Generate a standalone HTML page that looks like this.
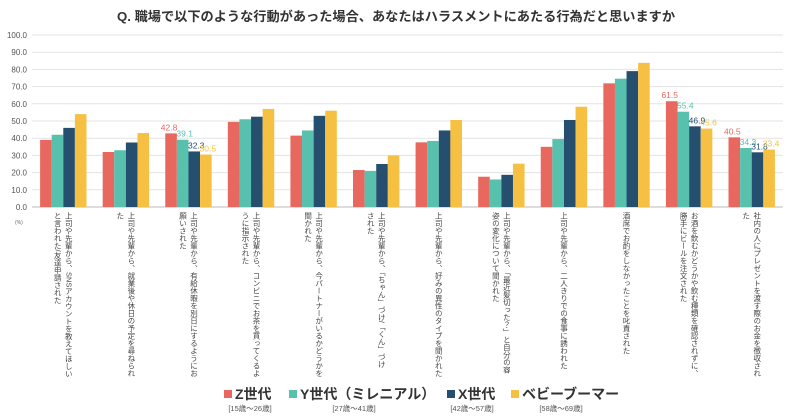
<!DOCTYPE html>
<html><head><meta charset="utf-8">
<style>
body{margin:0;background:#fff;font-family:"Liberation Sans","Noto Sans CJK JP",sans-serif;}
#wrap{position:relative;width:797px;height:420px;overflow:hidden;background:#fff;}
.title{position:absolute;left:117px;top:6px;font-size:13.2px;font-weight:bold;color:#333;white-space:nowrap;}
.cat{position:absolute;top:212px;writing-mode:vertical-rl;font-size:7.5px;line-height:11px;color:#444;white-space:nowrap;transform:translateX(-50%);}
.leg{position:absolute;top:384px;font-size:14px;font-weight:bold;color:#333;white-space:nowrap;}
.sw{display:inline-block;width:8px;height:8px;margin-right:3px;vertical-align:1px;}
.sub{position:absolute;top:403px;font-size:7.5px;color:#555;white-space:nowrap;transform:translateX(-50%);}
</style></head><body>
<div id="wrap">
<div class="title">Q. 職場で以下のような行動があった場合、あなたはハラスメントにあたる行為だと思いますか</div>
<svg id="svg" width="797" height="420" style="position:absolute;left:0;top:0"></svg>
<div id="cats"></div>
<div class="leg" style="left:224px"><span class="sw" style="background:#e8685f"></span>Z世代</div>
<div class="leg" style="left:289px"><span class="sw" style="background:#57c1ae"></span>Y世代（ミレニアル）</div>
<div class="leg" style="left:447px"><span class="sw" style="background:#264e6e"></span>X世代</div>
<div class="leg" style="left:511px"><span class="sw" style="background:#f6c143"></span>ベビーブーマー</div>
<div class="sub" style="left:250px">[15歳～26歳]</div>
<div class="sub" style="left:354px">[27歳～41歳]</div>
<div class="sub" style="left:472px">[42歳～57歳]</div>
<div class="sub" style="left:561px">[58歳～69歳]</div>
</div>
<script>
const categories=[
"上司や先輩から、SNSアカウントを教えてほしい<br>と言われた/友達申請された",
"上司や先輩から、就業後や休日の予定を尋ねられ<br>た",
"上司や先輩から、有給休暇を別日にするようにお<br>願いされた",
"上司や先輩から、コンビニでお茶を買ってくるよ<br>うに指示された",
"上司や先輩から、今パートナーがいるかどうかを<br>聞かれた",
"上司や先輩から、「ちゃん」づけ/「くん」づけ<br>された",
"上司や先輩から、好みの異性のタイプを聞かれた",
"上司や先輩から、「最近髪切った？」と自分の容<br>姿の変化について聞かれた",
"上司や先輩から、二人きりでの食事に誘われた",
"酒席でお酌をしなかったことを叱責された",
"お酒を飲むかどうかや飲む種類を確認されずに、<br>勝手にビールを注文された",
"社内の人にプレゼントを渡す際のお金を徴収され<br>た"];
const genZ=[39,32,42.8,49.5,41.5,21.5,37.6,17.6,35,71.9,61.5,40.5];
const genY=[42,33,39.1,51,44.5,21,38.4,16,39.5,74.6,55.4,34.3];
const genX=[46,37.5,32.3,52.5,53,25,44.5,18.7,50.6,79,46.9,31.8];
const boomer=[54,43,30.5,57,56,30,50.6,25.2,58.3,83.8,45.6,33.4];
const yTicks=[0,10,20,30,40,50,60,70,80,90,100];
const labeled=[2,10,11];
const series=[genZ,genY,genX,boomer];
const colors=["#e8685f","#57c1ae","#264e6e","#f6c143"];
const names=["z","y","x","boomer"];
const X0=32,X1=783,Y0=207,Y100=35;
const bw=(X1-X0)/categories.length;
const y=v=>Y0-(Y0-Y100)*v/100;
const xc=i=>X0+bw*(i+0.5);
const svg=document.getElementById('svg');
const NS="http://www.w3.org/2000/svg";
function mk(t,a){const e=document.createElementNS(NS,t);for(const k in a)e.setAttribute(k,a[k]);svg.appendChild(e);return e;}
yTicks.forEach(t=>{
 const l=mk('line',{x1:X0,x2:X1,y1:y(t),y2:y(t),stroke:t===0?'#bbb':'#e3e3e3','stroke-width':1});
 
 
 const tx=mk('text',{x:27,y:y(t)+3,'text-anchor':'end','font-size':8,fill:'#555'});
 tx.textContent=t.toFixed(1);
 
 
});
const pu=mk('text',{x:15,y:224,'font-size':5,fill:'#666'});pu.textContent='(%)';


const barW=11.6;
categories.forEach((c,i)=>{
 series.forEach((s,j)=>{
  const bx=xc(i)-2*barW+j*barW;
  const r=mk('rect',{x:bx,y:y(s[i]),width:barW,height:Y0-y(s[i]),fill:colors[j]});
  
  
  if(labeled.includes(i)){
   const t=mk('text',{x:bx+barW/2+(j?2:-2),y:y(s[i])-3,'text-anchor':'middle','font-size':8.5,fill:colors[j]});
   t.textContent=s[i].toFixed(1);
   
   
  }
 });
 const d=document.createElement('div');
 d.className='cat';d.style.left=xc(i)+'px';d.innerHTML=c;
 
 
 document.getElementById('cats').appendChild(d);
});
</script>
</body></html>
